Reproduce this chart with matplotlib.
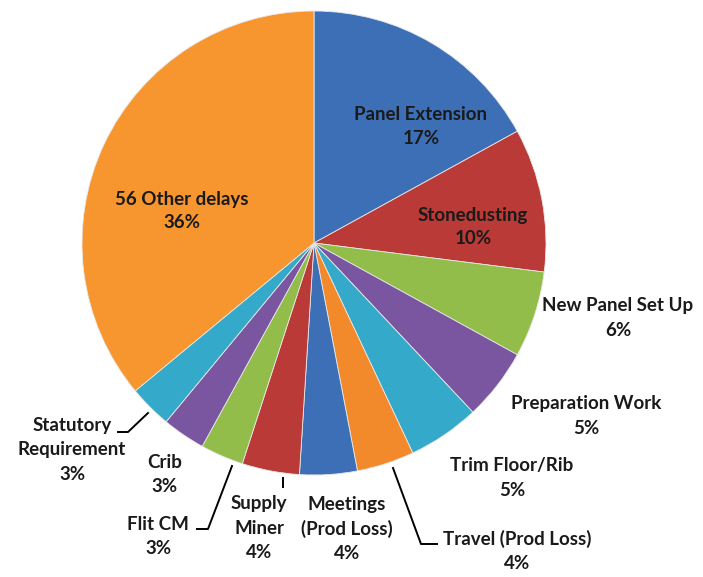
import numpy as np
import matplotlib.pyplot as plt

names = ["Panel Extension", "Stonedusting", "New Panel Set Up", "Preparation Work",
         "Trim Floor/Rib", "Travel (Prod Loss)", "Meetings\n(Prod Loss)", "Supply\nMiner",
         "Flit CM", "Crib", "Statutory\nRequirement", "56 Other delays"]
pct = [17, 10, 6, 5, 5, 4, 4, 4, 3, 3, 3, 36]
colors = ["#3d6fb6", "#b93a37", "#93bd4a", "#7a55a0", "#35a9c9", "#f28a2c",
          "#3d6fb6", "#b93a37", "#93bd4a", "#7a55a0", "#35a9c9", "#f7962f"]

# label centres in pixel coords (x, y from top)
label_pos = [(421, 127), (473, 227), (618, 318), (586, 416), (512, 478), (517, 551),
             (347, 529), (259, 528), (158, 537), (165, 475), (72, 450), (182, 211)]
# leader lines (pixel coords)
leaders = {
    "Statutory": [(118, 432), (128, 432), (148, 413)],
    "Flit": [(197, 529), (208, 529), (232, 466)],
    "Supply": [(283, 478), (283, 487)],
    "Travel": [(393, 468), (421, 544), (437, 544)],
}

W, H = 703, 577
fig = plt.figure(figsize=(W / 100, H / 100), dpi=100)
ax = fig.add_axes([0, 0, 1, 1])

wedges, _ = ax.pie(pct, colors=colors, startangle=90, counterclock=False,
                   center=(314, H - 243), radius=232, frame=True,
                   wedgeprops=dict(edgecolor="#e8e8e8", linewidth=0.6))
ax.set_xlim(0, W)
ax.set_ylim(0, H)
ax.set_aspect("equal")
ax.axis("off")

for n, p, (x, y) in zip(names, pct, label_pos):
    ax.text(x, H - y, f"{n}\n{p}%", ha="center", va="center", fontsize=13.5,
            fontweight="bold", family="Lato", color="#1a1a1a", linespacing=1.5)

for pts in leaders.values():
    xs = [p[0] for p in pts]
    ys = [H - p[1] for p in pts]
    ax.plot(xs, ys, color="black", lw=1.4)

fig.savefig("out.png", dpi=100)
